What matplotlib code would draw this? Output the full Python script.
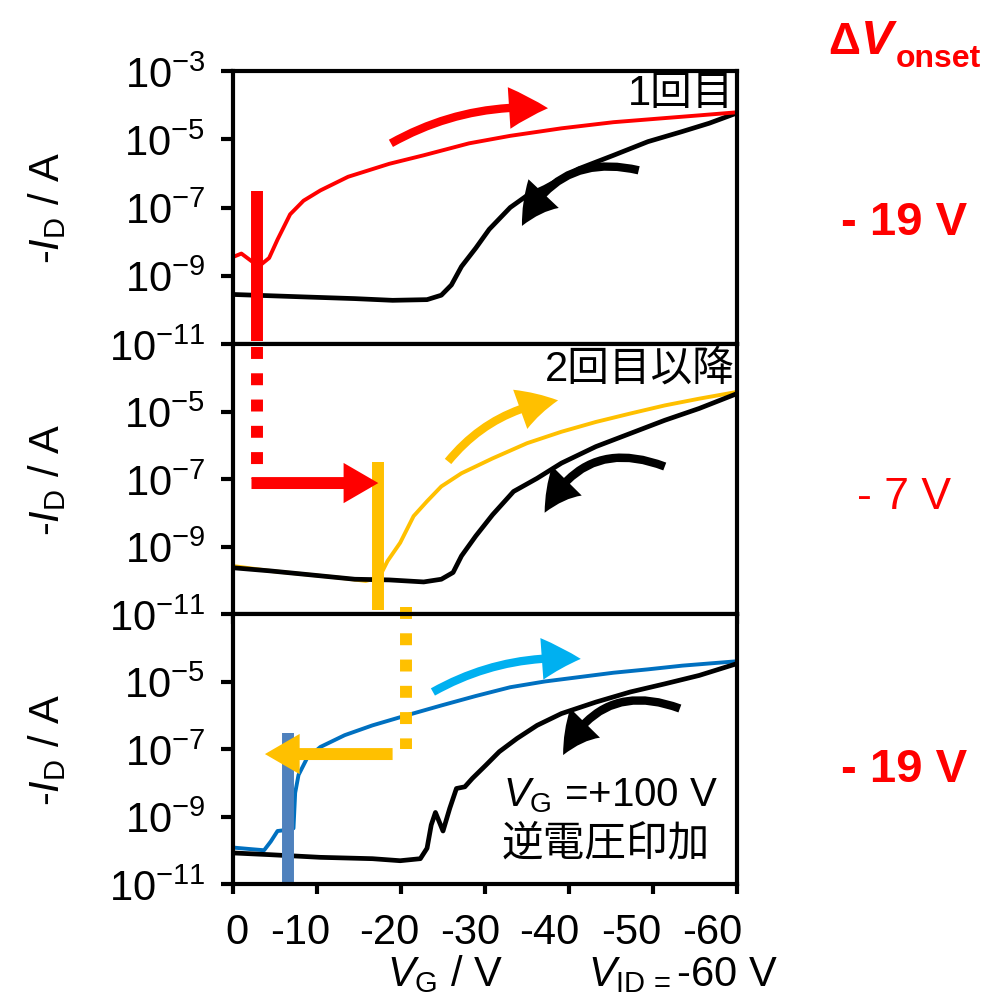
import numpy as np
import matplotlib
matplotlib.use("Agg")
from matplotlib import pyplot as plt

plt.rcParams['font.family'] = ['Liberation Sans', 'Noto Sans CJK JP']
plt.rcParams['mathtext.fontset'] = 'custom'
plt.rcParams['mathtext.rm'] = 'Liberation Sans'
plt.rcParams['mathtext.it'] = 'Liberation Sans:italic'
plt.rcParams['mathtext.bf'] = 'Liberation Sans:bold'

# ---- data (log10 of -I_D) ----
# 1st sweep
red_vg = [-0.2, -1.0, -2.25, -3.3, -4.3, -5.3, -6.8, -8.4, -10.4, -13.7, -18.6, -22.7,
          -28.1, -33.0, -39.1, -45.3, -51.4, -55.5, -60.0]
red_logi = [-8.43, -8.35, -8.58, -8.68, -8.48, -7.94, -7.2, -6.8, -6.5, -6.1, -5.72, -5.47,
            -5.12, -4.9, -4.68, -4.5, -4.38, -4.3, -4.21]
blk1_vg = [-0.2, -8.4, -14.5, -19.0, -23.1, -24.8, -26.0, -27.2, -28.9, -30.5, -33.0, -35.0,
           -37.1, -41.2, -45.3, -49.4, -53.4, -56.7, -60.0]
blk1_logi = [-9.55, -9.62, -9.67, -9.72, -9.70, -9.57, -9.27, -8.73, -8.19, -7.64, -7.0, -6.65,
             -6.41, -5.86, -5.47, -5.07, -4.78, -4.53, -4.23]

# 2nd sweep and later
org_vg = [0.0, -4.3, -8.4, -12.5, -15.8, -17.4, -18.4, -19.9, -21.5, -23.1, -24.8, -27.2,
          -30.9, -35.0, -39.1, -43.2, -47.3, -51.4, -55.5, -60.0]
org_logi = [-9.58, -9.72, -9.82, -9.92, -10.02, -9.92, -9.43, -8.89, -8.1, -7.66, -7.22, -6.83,
            -6.39, -5.94, -5.6, -5.31, -5.06, -4.82, -4.62, -4.42]
blk2_vg = [0.0, -4.3, -8.4, -14.5, -18.6, -22.7, -24.8, -26.2, -27.2, -28.9, -30.9, -33.4,
           -36.2, -39.1, -43.2, -47.3, -51.4, -55.5, -60.0]
blk2_logi = [-9.63, -9.72, -9.82, -9.97, -9.99, -10.05, -9.97, -9.77, -9.28, -8.69, -8.06, -7.37,
             -6.98, -6.53, -6.04, -5.65, -5.26, -4.91, -4.47]

# after V_G = +100 V
blu_vg = [0.0, -1.8, -3.7, -4.5, -5.3, -6.3, -7.2, -7.4, -7.8, -8.8, -10.4, -13.3, -16.6,
          -20.7, -24.8, -28.9, -33.0, -37.1, -41.2, -45.3, -49.4, -53.5, -60.0]
blu_logi = [-9.92, -9.96, -10.0, -9.74, -9.43, -9.4, -9.35, -8.3, -7.77, -7.28, -6.94, -6.59, -6.3,
            -6.0, -5.71, -5.43, -5.17, -5.0, -4.87, -4.74, -4.64, -4.53, -4.4]
blk3_vg = [0.0, -4.3, -10.4, -16.6, -19.9, -22.3, -23.1, -23.6, -24.1, -25.0, -25.8, -26.6,
           -27.6, -28.5, -30.1, -31.7, -33.8, -36.2, -39.1, -43.2, -47.3, -51.4, -55.5, -60.0]
blk3_logi = [-10.08, -10.13, -10.21, -10.25, -10.31, -10.25, -9.94, -9.25, -8.88, -9.43, -8.76, -8.17,
             -8.12, -7.87, -7.48, -7.08, -6.69, -6.3, -5.95, -5.61, -5.31, -5.07, -4.82, -4.47]

# onset markers (V_G, log10 range)
onset_vg = [-2.8, -17.3, -6.5]
onset_range = [(-6.53, -10.9), (-6.51, -10.87), (-6.54, -11.0)]
onset_colors = ['#ff0000', '#ffc000', '#4f81bd']
delta_labels = ['- 19 V', '- 7 V', '- 19 V']

xtick_values = [0, -10, -20, -30, -40, -50, -60]
xtick_text_pos = [-0.5, -8.0, -18.6, -28.2, -37.7, -47.4, -57.0]

fig = plt.figure(figsize=(9.95, 10.04), dpi=100)
left, width = 233 / 995, 504 / 995
boxes = [(72, 345), (345, 615), (615, 885)]
axes = []
for top, bot in boxes:
    ax = fig.add_axes([left, 1 - bot / 1004, width, (bot - top) / 1004])
    axes.append(ax)

for i, ax in enumerate(axes):
    ax.set_yscale('log')
    ax.set_ylim(1e-11, 1e-3)
    ax.set_xlim(0, -60)
    for s in ax.spines.values():
        s.set_linewidth(3.0)
    if i == 0:
        ax.set_yticks([1e-11, 1e-9, 1e-7, 1e-5, 1e-3])
    else:
        ax.set_yticks([1e-11, 1e-9, 1e-7, 1e-5])
    ax.minorticks_off()
    ax.tick_params(axis='y', direction='out', length=9, width=3.0, labelsize=30, pad=11)
    ax.set_xticks(xtick_values, minor=True)
    if i == 2:
        ax.set_xticks(xtick_text_pos)
        ax.set_xticklabels([str(v) for v in xtick_values])
        ax.tick_params(axis='x', which='major', length=0, labelsize=30, pad=20)
    else:
        ax.set_xticks([])
    ax.tick_params(axis='x', which='minor', direction='out', length=7, width=3.0)
    if i == 0:
        ax.tick_params(axis='x', which='minor', length=0)

# curves
axes[0].plot(blk1_vg, 10 ** np.array(blk1_logi), color='black', lw=3.4)
axes[0].plot(red_vg, 10 ** np.array(red_logi), color='#ff0000', lw=2.8)
axes[1].plot(org_vg, 10 ** np.array(org_logi), color='#ffc000', lw=2.8)
axes[1].plot(blk2_vg, 10 ** np.array(blk2_logi), color='black', lw=3.4)
axes[2].plot(blu_vg, 10 ** np.array(blu_logi), color='#0070c0', lw=2.8)
axes[2].plot(blk3_vg, 10 ** np.array(blk3_logi), color='black', lw=3.4)

# onset bars
for ax, vg, (y1, y2), c in zip(axes, onset_vg, onset_range, onset_colors):
    ax.plot([vg, vg], [10 ** y1, 10 ** y2], color=c, lw=8.6, solid_capstyle='butt', clip_on=False)

# dotted connectors
axes[1].plot([onset_vg[0], onset_vg[0]], [10 ** -3.1, 10 ** -7.0], color='#ff0000', lw=8.6,
             dashes=(1.0, 1.2), solid_capstyle='butt', clip_on=False)
axes[2].plot([-20.6, -20.6], [10 ** -2.8, 10 ** -7.0], color='#ffc000', lw=8.6,
             dashes=(1.0, 1.2), solid_capstyle='butt', clip_on=False)

# horizontal thick arrows
thick = 'simple,head_length=2.5,head_width=2.9,tail_width=0.86'
axes[1].annotate('', xy=(onset_vg[1], 10 ** -7.12), xytext=(-2.2, 10 ** -7.12),
                 arrowprops=dict(arrowstyle=thick, mutation_scale=10, color='#ff0000',
                                 shrinkA=0, shrinkB=0, lw=0))
axes[2].annotate('', xy=(-3.8, 10 ** -7.15), xytext=(-19.0, 10 ** -7.15),
                 arrowprops=dict(arrowstyle=thick, mutation_scale=10, color='#ffc000',
                                 shrinkA=0, shrinkB=0, lw=0))

# curved sweep-direction arrows
curved = 'simple,head_length=2.8,head_width=3.0,tail_width=0.6'
sweep_arrows = [
    (0, (-18.8, -5.12), (-37.5, -4.09), -0.15, '#ff0000'),
    (0, (-48.3, -5.91), (-34.4, -7.54), 0.4, 'black'),
    (1, (-25.6, -6.48), (-38.7, -4.67), -0.2, '#ffc000'),
    (1, (-51.4, -6.63), (-37.1, -8.0), 0.45, 'black'),
    (2, (-23.8, -5.31), (-41.4, -4.33), -0.15, '#00b0f0'),
    (2, (-53.2, -5.8), (-39.3, -7.18), 0.45, 'black'),
]
for i, s, e, rad, c in sweep_arrows:
    axes[i].annotate('', xy=(e[0], 10 ** e[1]), xytext=(s[0], 10 ** s[1]),
                     arrowprops=dict(arrowstyle=curved, mutation_scale=10, color=c, lw=0,
                                     connectionstyle='arc3,rad=%s' % rad, shrinkA=0, shrinkB=0))

# panel texts
axes[0].text(0.995, 0.92, '1回目', transform=axes[0].transAxes, ha='right', va='center', fontsize=30)
axes[1].text(0.995, 0.91, '2回目以降', transform=axes[1].transAxes, ha='right', va='center', fontsize=30)
axes[2].text(0.535, 0.33, r'$V_\mathrm{G}$ =+100 V', transform=axes[2].transAxes, ha='left',
             va='center', fontsize=29)
axes[2].text(0.532, 0.15, '逆電圧印加', transform=axes[2].transAxes, ha='left', va='center',
             fontsize=30)

# y labels
for yc in [0.793, 0.522, 0.253]:
    fig.text(0.047, yc, r'-$I_\mathrm{D}$ / A', rotation=90, ha='center', va='center', fontsize=30)

# x labels
fig.text(445 / 995, 0.018, r'$V_\mathrm{G}$ / V', ha='center', va='baseline', fontsize=30)
fig.text(588 / 995, 0.018, r'$V_\mathrm{ID\,=}$-60 V', ha='left', va='baseline', fontsize=30)

# delta V onset column
fig.text(828 / 995, 0.946, 'Δ', color='#ff0000', fontsize=32, fontweight='bold', ha='left', va='baseline')
fig.text(861 / 995, 0.946, 'V', color='#ff0000', fontsize=35, fontweight='bold', style='italic',
         ha='left', va='baseline')
fig.text(896 / 995, 0.933, 'onset', color='#ff0000', fontsize=23, fontweight='bold', ha='left', va='baseline')
for yc, lab, wt in zip([0.778, 0.504, 0.233], delta_labels, ['bold', 'normal', 'bold']):
    fig.text(904 / 995, yc, lab, color='#ff0000', fontsize=34 if wt == 'bold' else 32,
             fontweight=wt, ha='center', va='center')

fig.savefig('out.png', dpi=100)
